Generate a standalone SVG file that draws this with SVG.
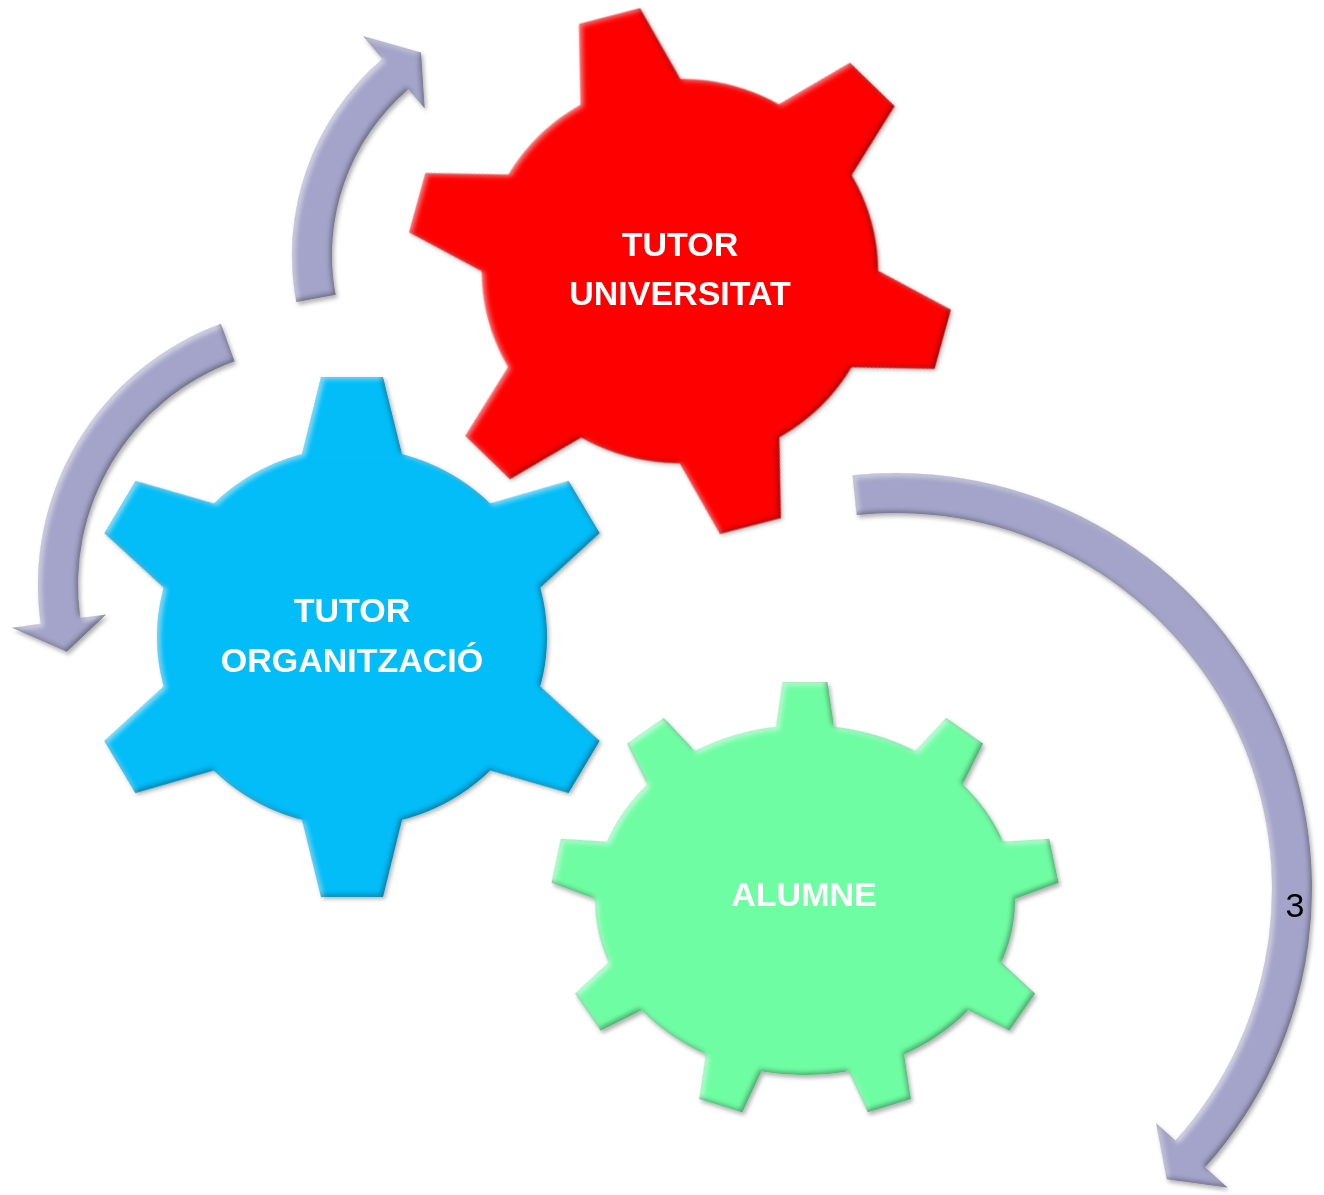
<svg xmlns="http://www.w3.org/2000/svg" xmlns:xlink="http://www.w3.org/1999/xlink" width="1324" height="1195" viewBox="0 0 1324 1195">
  <style>
    .lbl { font-family: "Liberation Sans", Arial, sans-serif; font-weight: bold; font-size: 34px; fill: #ffffff; text-anchor: middle; }
    .num { font-family: "Liberation Sans", Arial, sans-serif; font-size: 34px; fill: #000000; text-anchor: middle; }
    .red { fill: #FE0000; }
    .blue { fill: #02BDF8; }
    .green { fill: #6FFDA3; }
    .arrow { fill: #A4A4CA; }
  </style>
  <defs>
    <filter id="bev" x="-10%" y="-10%" width="120%" height="120%" color-interpolation-filters="sRGB">
      <feGaussianBlur in="SourceAlpha" stdDeviation="2.5" result="blur"/>
      <feOffset in="blur" dx="2.5" dy="2.5" result="offA"/>
      <feComposite in="SourceAlpha" in2="offA" operator="arithmetic" k1="0" k2="1" k3="-1" k4="0" result="hiMask"/>
      <feFlood flood-color="#ffffff" flood-opacity="0.55"/>
      <feComposite in2="hiMask" operator="in" result="hi"/>
      <feOffset in="blur" dx="-2.5" dy="-2.5" result="offB"/>
      <feComposite in="SourceAlpha" in2="offB" operator="arithmetic" k1="0" k2="1" k3="-1" k4="0" result="shMask"/>
      <feFlood flood-color="#000000" flood-opacity="0.35"/>
      <feComposite in2="shMask" operator="in" result="sh"/>
      <feGaussianBlur in="SourceAlpha" stdDeviation="2" result="dsb"/>
      <feOffset in="dsb" dx="1.5" dy="2.5" result="dso"/>
      <feFlood flood-color="#000000" flood-opacity="0.3"/>
      <feComposite in2="dso" operator="in" result="ds"/>
      <feMerge>
        <feMergeNode in="ds"/>
        <feMergeNode in="SourceGraphic"/>
        <feMergeNode in="hi"/>
        <feMergeNode in="sh"/>
      </feMerge>
    </filter>
    <polygon id="toothR" points="-53,-185 -31.5,-272 31.5,-272 53,-185"/>
    <polygon id="toothB" points="-52,-180 -31,-268 31,-268 52,-180"/>
  </defs>

  <rect width="1324" height="1195" fill="#ffffff"/>

  <g id="gear-tutor-organitzacio">
    <g class="blue" filter="url(#bev)" transform="translate(352,637) scale(1,0.97)">
      <circle r="195"/>
      <use xlink:href="#toothB"/>
      <use xlink:href="#toothB" transform="rotate(60)"/>
      <use xlink:href="#toothB" transform="rotate(120)"/>
      <use xlink:href="#toothB" transform="rotate(180)"/>
      <use xlink:href="#toothB" transform="rotate(240)"/>
      <use xlink:href="#toothB" transform="rotate(300)"/>
    </g>
    <text class="lbl" x="352" y="622">TUTOR</text>
    <text class="lbl" x="352" y="672">ORGANITZACIÓ</text>
  </g>

  <g id="gear-tutor-universitat">
    <g class="red" filter="url(#bev)" transform="translate(680,271) scale(1,0.97) rotate(-15)">
      <circle r="198"/>
      <use xlink:href="#toothR"/>
      <use xlink:href="#toothR" transform="rotate(60)"/>
      <use xlink:href="#toothR" transform="rotate(120)"/>
      <use xlink:href="#toothR" transform="rotate(180)"/>
      <use xlink:href="#toothR" transform="rotate(240)"/>
      <use xlink:href="#toothR" transform="rotate(300)"/>
    </g>
    <text class="lbl" x="680" y="256">TUTOR</text>
    <text class="lbl" x="680" y="305">UNIVERSITAT</text>
  </g>

  <g id="gear-alumne">
    <g class="green" filter="url(#bev)">
      <ellipse cx="805" cy="900" rx="210" ry="175"/>
      <polygon points="775.5,730 782.5,682 827.5,682 834.5,730"/>
      <polygon points="912.95,753.14 946.2,717.82 983.08,743.6 961.31,786.96"/>
      <polygon points="1000.81,841.8 1049.22,838.71 1058.54,882.73 1013.03,899.52"/>
      <polygon points="999.55,960.4 1035.02,993.49 1009.4,1030.49 965.95,1008.9"/>
      <polygon points="903.6,1051.11 910.83,1099.07 867.77,1112.13 847.14,1068.23"/>
      <polygon points="762.86,1068.23 742.23,1112.13 699.17,1099.07 706.4,1051.11"/>
      <polygon points="644.05,1008.9 600.6,1030.49 574.98,993.49 610.45,960.4"/>
      <polygon points="596.97,899.52 551.46,882.73 560.78,838.71 609.19,841.8"/>
      <polygon points="648.69,786.96 626.92,743.6 663.8,717.82 697.05,753.14"/>
    </g>
    <text class="lbl" x="804" y="906">ALUMNE</text>
  </g>

  <g id="connectors">
    <path class="arrow" filter="url(#bev)" d="M296.32,302.02 A258,258 0 0 1 382.44,58.81 L362.96,36.01 L421.05,52.59 L424.66,108.24 L408.42,89.23 A218,218 0 0 0 335.65,294.73 Z"/>
    <path class="arrow" filter="url(#bev)" d="M220.92,323.77 A278,278 0 0 0 40.7,623.69 L11.99,627.73 L66.79,651.78 L106.06,614.5 L80.32,618.12 A238,238 0 0 1 234.6,361.35 Z"/>
    <path class="arrow" filter="url(#bev)" d="M852.52,475.28 A416,416 0 0 1 1205.15,1167.36 L1227.44,1187.43 L1166.75,1179.35 L1156.1,1123.2 L1175.42,1140.59 A376,376 0 0 0 856.7,515.06 Z"/>
    <text class="num" x="1295" y="917">3</text>
  </g>
</svg>
